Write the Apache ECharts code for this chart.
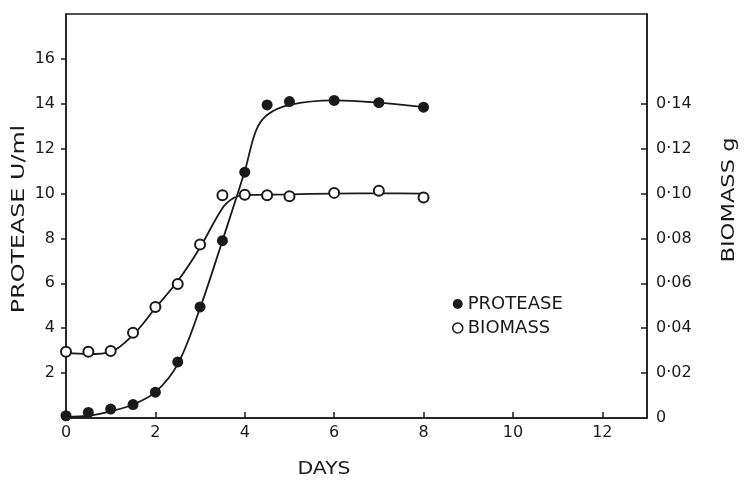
<!DOCTYPE html>
<html>
<head>
<meta charset="utf-8">
<script src="https://cdn.jsdelivr.net/npm/echarts@6/dist/echarts.min.js"></script>
<style>html,body{margin:0;padding:0;background:#fff;}#c{width:744px;height:481px;}</style>
</head>
<body>
<div id="c"></div>
<script>
// Measured points (days)
var proteaseDays = [0, 0.5, 1, 1.5, 2, 2.5, 3, 3.5, 4, 4.5, 5, 6, 7, 8];
var proteaseValues = [0.1, 0.25, 0.4, 0.6, 1.15, 2.5, 4.95, 7.9, 10.95, 13.95, 14.1, 14.15, 14.05, 13.85];
var biomassDays = [0, 0.5, 1, 1.5, 2, 2.5, 3, 3.5, 4, 4.5, 5, 6, 7, 8];
var biomassValues = [0.0295, 0.0295, 0.0298, 0.038, 0.0495, 0.0597, 0.0773, 0.0992, 0.0995, 0.0992, 0.0988, 0.1003, 0.1013, 0.0982];
// Hand-drawn fitted curves
var proteaseCurveDays = [0, 0.5, 1, 1.5, 2, 2.5, 3, 3.5, 4, 4.25, 4.5, 5, 6, 7, 8];
var proteaseCurveValues = [0.05, 0.1, 0.3, 0.6, 1.15, 2.4, 4.9, 7.9, 11.0, 12.8, 13.5, 13.95, 14.15, 14.05, 13.85];
var biomassCurveDays = [0, 0.5, 1, 1.5, 2, 2.5, 3, 3.5, 3.75, 4, 5, 6, 7, 8];
var biomassCurveValues = [0.029, 0.0285, 0.0295, 0.037, 0.049, 0.061, 0.076, 0.0935, 0.098, 0.0993, 0.0996, 0.1, 0.1001, 0.1];
// Axis ticks
var dayTicks = [0, 2, 4, 6, 8, 10, 12];
var proteaseTicks = [2, 4, 6, 8, 10, 12, 14, 16];
var biomassTicks = [0, 0.02, 0.04, 0.06, 0.08, 0.10, 0.12, 0.14];

function zip(a, b) { return a.map(function (v, i) { return [v, b[i]]; }); }

var ink = '#1a1a1a';
var font = 'DejaVu Sans';
var chart = echarts.init(document.getElementById('c'), null, { renderer: 'canvas' });
chart.setOption({
  animation: false,
  backgroundColor: '#fff',
  grid: { left: 66, right: 97, top: 14, bottom: 63, show: true, borderColor: ink, borderWidth: 1.5, backgroundColor: 'transparent' },
  xAxis: {
    type: 'value', min: 0, max: 13, interval: 1,
    axisLine: { show: true, lineStyle: { color: ink, width: 1.5 } },
    axisTick: { show: true, inside: true, length: 6, customValues: dayTicks.slice(1), lineStyle: { color: ink, width: 1.5 } },
    axisLabel: { customValues: dayTicks, margin: 7, color: ink, fontFamily: font, fontSize: 16 },
    splitLine: { show: false }
  },
  yAxis: [{
    type: 'value', min: 0, max: 18, interval: 2, position: 'left',
    axisLine: { show: true, lineStyle: { color: ink, width: 1.5 } },
    axisTick: { show: true, inside: false, length: 5, customValues: proteaseTicks, lineStyle: { color: ink, width: 1.5 } },
    axisLabel: { customValues: proteaseTicks, margin: 11, color: ink, fontFamily: font, fontSize: 16 },
    splitLine: { show: false }
  }, {
    type: 'value', min: 0, max: 0.18, interval: 0.02, position: 'right',
    axisLine: { show: true, lineStyle: { color: ink, width: 1.5 } },
    axisTick: { show: true, inside: true, length: 6, customValues: biomassTicks.slice(1), lineStyle: { color: ink, width: 1.5 } },
    axisLabel: {
      customValues: biomassTicks, margin: 9, color: ink, fontFamily: font, fontSize: 16,
      formatter: function (v) { return v === 0 ? '0' : v.toFixed(2).replace('.', '\u00B7'); }
    },
    splitLine: { show: false }
  }],
  legend: {
    orient: 'vertical', left: 447, top: 290, itemWidth: 10, itemHeight: 10, itemGap: 6,
    textStyle: { color: ink, fontFamily: font, fontSize: 18 },
    data: [
      { name: 'PROTEASE', icon: 'circle', itemStyle: { color: ink, borderWidth: 0, opacity: 1 } },
      { name: 'BIOMASS', icon: 'circle', itemStyle: { color: '#fff', borderColor: ink, borderWidth: 1.5, opacity: 1 } }
    ]
  },
  graphic: [
    { type: 'text', x: 20, y: 219, rotation: Math.PI / 2, style: { text: 'PROTEASE U/ml', fill: ink, font: '17px "DejaVu Sans"', align: 'center', verticalAlign: 'middle' }, scaleX: 1.4 },
    { type: 'text', x: 730, y: 200, rotation: Math.PI / 2, style: { text: 'BIOMASS g', fill: ink, font: '17px "DejaVu Sans"', align: 'center', verticalAlign: 'middle' }, scaleX: 1.33 },
    { type: 'text', x: 324, y: 470, style: { text: 'DAYS', fill: ink, font: '17px "DejaVu Sans"', align: 'center', verticalAlign: 'middle' }, scaleX: 1.2 }
  ],
  series: [
    { name: 'protease curve', type: 'line', smooth: 0.35, showSymbol: false, symbol: 'none', data: zip(proteaseCurveDays, proteaseCurveValues), lineStyle: { color: ink, width: 1.8 }, z: 2 },
    { name: 'biomass curve', type: 'line', yAxisIndex: 1, smooth: 0.35, showSymbol: false, symbol: 'none', data: zip(biomassCurveDays, biomassCurveValues), lineStyle: { color: ink, width: 1.8 }, z: 2 },
    { name: 'PROTEASE', type: 'scatter', symbol: 'circle', symbolSize: 11, data: zip(proteaseDays, proteaseValues), itemStyle: { color: ink, opacity: 1 }, z: 3 },
    { name: 'BIOMASS', type: 'scatter', yAxisIndex: 1, symbol: 'circle', symbolSize: 10, data: zip(biomassDays, biomassValues), itemStyle: { color: '#fff', borderColor: ink, borderWidth: 2, opacity: 1 }, z: 3 }
  ]
});
</script>
</body>
</html>
